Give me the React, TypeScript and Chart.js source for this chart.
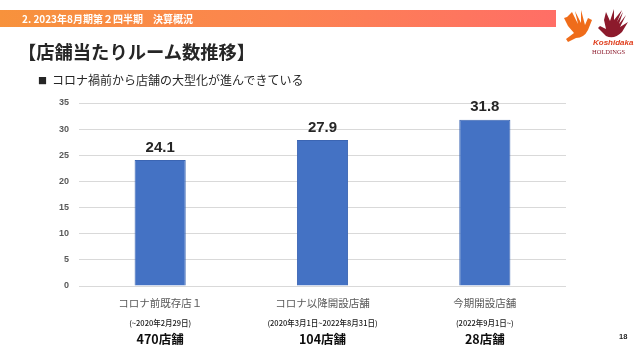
import React, { useEffect, useRef } from "react";
import { Chart, registerables } from "chart.js";

Chart.register(...registerables);

const categories = ["コロナ前既存店１", "コロナ以降開設店舗", "今期開設店舗"];
const periods = ["(~2020年2月29日)", "(2020年3月1日~2022年8月31日)", "(2022年9月1日~)"];
const storeCounts = ["470店舗", "104店舗", "28店舗"];
const roomsPerStore = [24.1, 27.9, 31.8];
const yTicks = [0, 5, 10, 15, 20, 25, 30, 35];

const JP = '"Noto Sans CJK JP", "Noto Sans", sans-serif';
const NUM = '"Liberation Sans", Arial, sans-serif';

const labelsPlugin = {
  id: "customLabels",
  afterDatasetsDraw(chart: any) {
    const ctx = chart.ctx;
    const meta = chart.getDatasetMeta(0);
    ctx.save();
    ctx.fillStyle = "#262626";
    ctx.font = `bold 15px ${NUM}`;
    ctx.textAlign = "center";
    ctx.textBaseline = "bottom";
    meta.data.forEach((bar: any, i: number) => {
      ctx.fillText(roomsPerStore[i].toFixed(1), bar.x, bar.y - 5);
    });
    const xs = chart.scales.x;
    const bottom = chart.chartArea.bottom;
    categories.forEach((c, i) => {
      const x = xs.getPixelForValue(i);
      ctx.textBaseline = "middle";
      ctx.fillStyle = "#595959";
      ctx.font = `10.5px ${JP}`;
      ctx.fillText(c, x, bottom + 17);
      ctx.fillStyle = "#1a1a1a";
      ctx.font = `500 7.5px ${JP}`;
      ctx.fillText(periods[i], x, bottom + 37);
      ctx.fillStyle = "#0d0d0d";
      ctx.font = `bold 12.5px ${JP}`;
      ctx.fillText(storeCounts[i], x, bottom + 53);
    });
    ctx.restore();
  },
};

export default function App() {
  const ref = useRef<HTMLCanvasElement>(null);
  useEffect(() => {
    if (!ref.current) return;
    const chart = new Chart(ref.current, {
      type: "bar",
      data: {
        labels: categories,
        datasets: [
          {
            data: roomsPerStore,
            backgroundColor: "#4472c4",
            borderColor: "#3b65b3",
            borderWidth: 1,
            barPercentage: 0.63,
            categoryPercentage: 0.5,
          },
        ],
      },
      options: {
        animation: false,
        responsive: false,
        devicePixelRatio: 1,
        layout: { padding: { left: 0, right: 74, top: 103, bottom: 66 } },
        plugins: { legend: { display: false }, tooltip: { enabled: false } },
        scales: {
          x: {
            display: true,
            grid: { display: false },
            border: { display: false },
            ticks: { display: false },
          },
          y: {
            min: 0,
            max: 35,
            afterFit: (s: any) => {
              s.width = 79;
            },
            afterBuildTicks: (s: any) => {
              s.ticks = yTicks.map((v) => ({ value: v }));
            },
            grid: { color: "#d9d9d9", lineWidth: 1, drawTicks: false },
            border: { display: false },
            ticks: {
              padding: 10,
              color: "#595959",
              font: { family: NUM, size: 9, weight: "bold" },
            },
          },
        },
      },
      plugins: [labelsPlugin],
    });
    return () => chart.destroy();
  }, []);

  return (
    <div style={{ position: "fixed", left: 0, top: 0, width: 640, height: 360, background: "#fff", overflow: "hidden" }}>
      <canvas ref={ref} width={640} height={360} style={{ position: "absolute", left: 0, top: 0 }} />
      <div
        style={{
          position: "absolute",
          left: 0,
          top: 10,
          width: 556,
          height: 17,
          background: "linear-gradient(90deg, #f7923c 0%, #fc8450 50%, #ff6e66 100%)",
        }}
      />
      <div
        style={{
          position: "absolute",
          left: 22,
          top: 10,
          height: 17,
          lineHeight: "17px",
          color: "#fff",
          fontFamily: JP,
          fontWeight: 700,
          fontSize: 10,
          whiteSpace: "nowrap",
        }}
      >
        2. 2023年8月期第２四半期　決算概況
      </div>
      <div
        style={{
          position: "absolute",
          left: 18,
          top: 38,
          lineHeight: "26px",
          color: "#262626",
          fontFamily: JP,
          fontWeight: 700,
          fontSize: 18.3,
          whiteSpace: "nowrap",
        }}
      >
        【店舗当たりルーム数推移】
      </div>
      <div
        style={{
          position: "absolute",
          left: 38,
          top: 72,
          lineHeight: "16px",
          color: "#262626",
          fontFamily: JP,
          fontSize: 12,
          whiteSpace: "nowrap",
        }}
      >
        <span style={{ fontSize: 9, marginRight: 5, verticalAlign: "1px" }}>■</span>コロナ禍前から店舗の大型化が進んできている
      </div>
      <svg style={{ position: "absolute", left: 562, top: 6 }} width={78} height={52}>
        <path d="M10 6 L16 18 L13 5 L19 17 L19 4 L23 19 L26 12 L30 14 L26 24 Q22 32 14 32 L6 36 L4 33 L12 27 L6 20 L2 12 L5 11 Z" fill="#ef6c1a" />
        <path d="M60 4 L55 16 L61 6 L57 18 L64 9 L58 21 L66 16 L60 26 Q52 34 44 30 L36 22 L38 20 L44 23 L42 14 L44 6 L48 15 L52 3 L52 14 Z" fill="#8c1a2c" />
        <text x={31} y={39} fontFamily={NUM} fontStyle="italic" fontWeight={700} fontSize={8} fill="#e0401f">Koshidaka</text>
        <text x={30} y={48} fontFamily='"Liberation Serif", serif' fontSize={6.5} fill="#8c1a2c">HOLDINGS</text>
      </svg>
      <div
        style={{
          position: "absolute",
          left: 619,
          top: 332,
          fontFamily: NUM,
          fontWeight: 700,
          fontSize: 7.5,
          color: "#262626",
        }}
      >
        18
      </div>
    </div>
  );
}
